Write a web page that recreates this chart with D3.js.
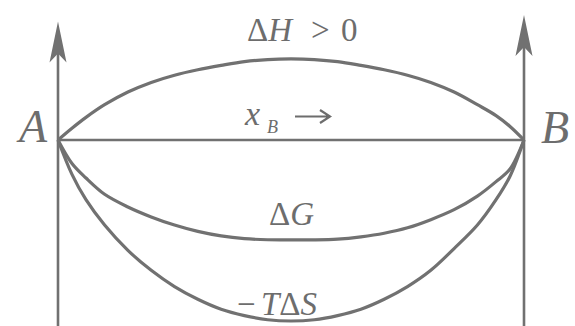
<!DOCTYPE html>
<html>
<head>
<meta charset="utf-8">
<script src="https://cdn.jsdelivr.net/npm/d3@7"></script>
<style>
  html, body { margin: 0; padding: 0; background: #fff; }
  svg { display: block; }
  text { font-family: "Liberation Serif", "Times New Roman", Tinos, "DejaVu Serif", "Noto Serif", serif; fill: #6d6d6d; }
</style>
</head>
<body>
<svg id="chart" width="575" height="326"></svg>
<script>
// Mole fraction of B along the mixing axis (0 = pure A, 1 = pure B)
const xB = [0, 0.03, 0.06, 0.1, 0.15, 0.2, 0.25, 0.3, 0.35, 0.4, 0.45, 0.5,
            0.55, 0.6, 0.65, 0.7, 0.75, 0.8, 0.85, 0.9, 0.94, 0.97, 1];

// Enthalpy of mixing (endothermic, above the zero line)
const dH = [0, 0.065, 0.125, 0.195, 0.265, 0.318, 0.358, 0.388, 0.412, 0.433, 0.4445, 0.448,
            0.4445, 0.433, 0.412, 0.388, 0.358, 0.318, 0.265, 0.195, 0.135, 0.075, 0];

// Gibbs energy of mixing
const dG = [0, -0.13, -0.21, -0.3, -0.37, -0.425, -0.47, -0.505, -0.53, -0.545, -0.551, -0.552,
            -0.552, -0.548, -0.535, -0.515, -0.485, -0.44, -0.385, -0.31, -0.23, -0.16, 0];

// Entropic term -T·ΔS of mixing
const mTdS = [0, -0.19, -0.33, -0.47, -0.61, -0.72, -0.81, -0.88, -0.935, -0.97, -0.993, -1.0,
              -0.993, -0.97, -0.935, -0.88, -0.81, -0.72, -0.6, -0.47, -0.33, -0.2, 0];

// Text labels
const endLabels = ["A", "B"];

const svg = d3.select("#chart");
const ink = "#717171";

const x = d3.scaleLinear().domain([0, 1]).range([58, 524]);
const y = d3.scaleLinear().domain([-1, 0]).range([321, 140]);

const line = d3.line()
  .x(d => x(d[0]))
  .y(d => y(d[1]))
  .curve(d3.curveCatmullRom.alpha(0.5));

// Vertical axes for pure A and pure B, each topped with an arrowhead
const axisTop = [0.655, 0.69];
[0, 1].forEach((v, i) => {
  const px = x(v);
  const top = y(axisTop[i]);
  svg.append("line")
    .attr("x1", px).attr("x2", px)
    .attr("y1", 326).attr("y2", top + 20)
    .attr("stroke", ink).attr("stroke-width", 2.6);
  svg.append("path")
    .attr("d", `M${px},${top} L${px + 8.5},${top + 41} L${px},${top + 32} L${px - 8.5},${top + 41} Z`)
    .attr("fill", ink);
});

// Zero line of the mixing quantities
svg.append("line")
  .attr("x1", x(0)).attr("x2", x(1))
  .attr("y1", y(0)).attr("y2", y(0))
  .attr("stroke", ink).attr("stroke-width", 2.4);

// The three mixing curves
[dH, dG, mTdS].forEach(series => {
  svg.append("path")
    .datum(xB.map((t, i) => [t, series[i]]))
    .attr("d", line)
    .attr("fill", "none")
    .attr("stroke", ink)
    .attr("stroke-width", 3.2);
});

// End-member labels
svg.append("text").attr("x", 19).attr("y", 142)
  .attr("font-size", 46).attr("font-style", "italic").text(endLabels[0]);
svg.append("text").attr("x", 541).attr("y", 143)
  .attr("font-size", 46).attr("font-style", "italic").text(endLabels[1]);

// ΔH > 0
const tH = svg.append("text").attr("y", 41).attr("font-size", 33);
tH.append("tspan").attr("x", 247).text("\u0394");
tH.append("tspan").attr("font-style", "italic").text("H");
tH.append("tspan").attr("x", 311).text(">");
tH.append("tspan").attr("x", 341).text("0");

// x_B →
const tx = svg.append("text").attr("y", 125).attr("font-size", 34);
tx.append("tspan").attr("x", 245).attr("font-style", "italic").text("x");
tx.append("tspan").attr("x", 267).attr("font-style", "italic").attr("font-size", 18).attr("dy", 8).text("B");
svg.append("path")
  .attr("d", "M295,116.5 L328,116.5 M320,110 L330,116.5 L320,123")
  .attr("fill", "none").attr("stroke", "#6d6d6d").attr("stroke-width", 2.2);

// ΔG
const tG = svg.append("text").attr("x", 269).attr("y", 225).attr("font-size", 33);
tG.append("tspan").text("\u0394");
tG.append("tspan").attr("font-style", "italic").text("G");

// −TΔS
const tS = svg.append("text").attr("y", 315).attr("font-size", 33);
tS.append("tspan").attr("x", 237).text("\u2212");
tS.append("tspan").attr("x", 261).attr("font-style", "italic").text("T");
tS.append("tspan").text("\u0394");
tS.append("tspan").attr("font-style", "italic").text("S");
</script>
</body>
</html>
